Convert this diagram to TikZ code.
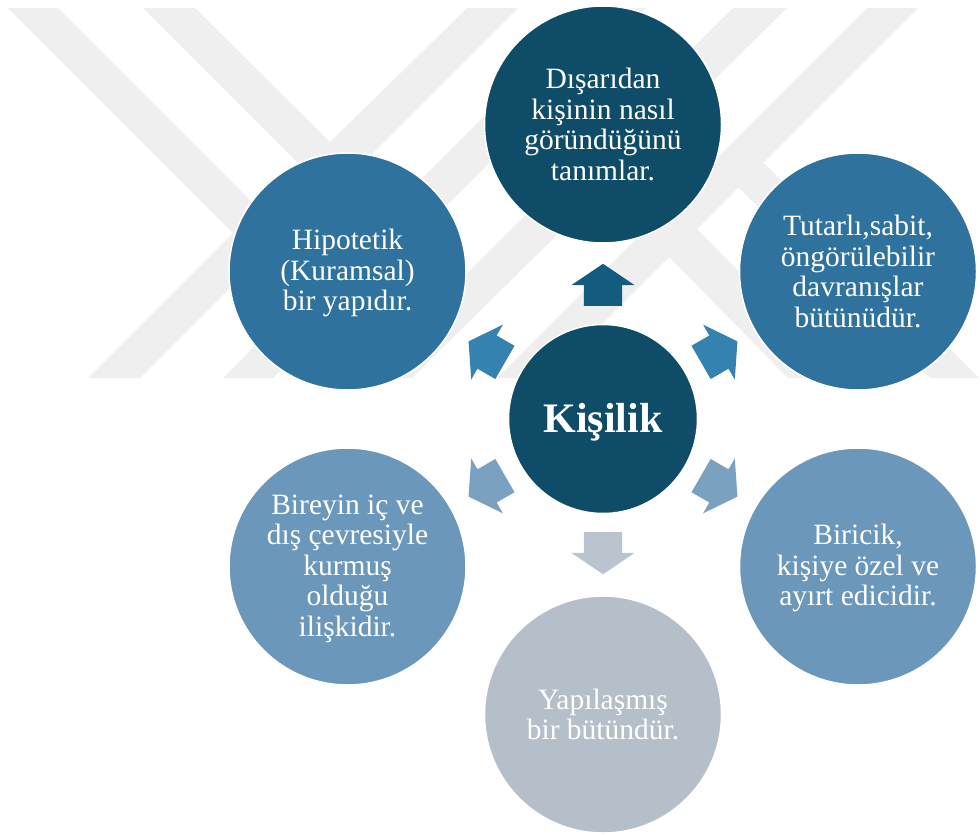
\documentclass[tikz,border=0pt]{standalone}
\usepackage{fontspec}
\setmainfont{Liberation Serif}
\usetikzlibrary{shapes.arrows}
\definecolor{koyu}{HTML}{0F4C68}
\definecolor{orta}{HTML}{2E729D}
\definecolor{acik}{HTML}{6A97BA}
\definecolor{gri}{HTML}{B4BFC9}
\definecolor{okkoyu}{HTML}{135C80}
\definecolor{okorta}{HTML}{3582B0}
\definecolor{okacik}{HTML}{7AA2C0}
\definecolor{okgri}{HTML}{BAC4CE}
\definecolor{filigran}{HTML}{EFEFEF}
\newcommand{\ustpay}{\rule{0pt}{24pt}}
\tikzset{
	daire/.style={circle,draw=white,line width=1.5pt,fill=#1,text=white,inner sep=0pt,minimum size=237pt,align=center,font=\fontsize{29.5}{30.5}\selectfont},
	ok/.style={single arrow,fill=#1,draw=none,inner xsep=0pt,inner ysep=19pt,minimum height=42pt,single arrow head extend=12.5pt,single arrow tip angle=112,single arrow head indent=0pt,anchor=tail},
	filigranband/.style={fill=filigran,draw=none}
}
\begin{document}
\begin{tikzpicture}[x=1pt,y=-1pt]
	\useasboundingbox (0,0) rectangle (980,835);
	\fill[filigranband] (8,8) -- (58,8) -- (284,234) -- (140,378) -- (88,378) -- (233,233) -- cycle;
	\fill[filigranband] (143,8) -- (195,8) -- (330,142) -- (467,8) -- (518,8) -- (330.5,195.5) -- cycle;
	\fill[filigranband] (592,8) -- (646,8) -- (273,378) -- (223,378) -- cycle;
	\fill[filigranband] (733,8) -- (787,8) -- (412,378) -- (362,378) -- cycle;
	\fill[filigranband] (867,8) -- (918,8) -- (548,378) -- (497,378) -- cycle;
	\fill[filigranband] (695,227) -- (667,255) -- (788,378) -- (844,378) -- cycle;
	\fill[filigranband] (763,162) -- (738,187) -- (930,378) -- (979,378) -- cycle;

	\node[daire=koyu,minimum size=189pt,font=\fontsize{42}{46}\selectfont\bfseries] (merkez) at (603,419) {\rule{0pt}{35pt}Kişilik};
	\node[daire=koyu] (d1) at (603,124.5) {Dışarıdan\\kişinin nasıl\\göründüğünü\\tanımlar.};
	\node[daire=orta] (d2) at (858,271.5) {Tutarlı,sabit,\\öngörülebilir\\davranışlar\\bütünüdür.};
	\node[daire=acik] (d3) at (858,566.5) {\ustpay Biricik,\\kişiye özel ve\\ayırt edicidir.};
	\node[daire=gri] (d4) at (603,714.5) {Yapılaşmış\\bir bütündür.};
	\node[daire=acik] (d5) at (347.5,566.5) {\ustpay Bireyin iç ve\\dış çevresiyle\\kurmuş\\olduğu\\ilişkidir.};
	\node[daire=orta] (d6) at (347.5,271.5) {\ustpay Hipotetik\\(Kuramsal)\\bir yapıdır.};

	\node[ok=okkoyu,rotate=90] (o1) at (603,306) {};
	\node[ok=okorta,rotate=30] (o2) at (700.9,362.5) {};
	\node[ok=okacik,rotate=-30] (o3) at (700.9,475.5) {};
	\node[ok=okgri,rotate=-90] (o4) at (603,532) {};
	\node[ok=okacik,rotate=-150] (o5) at (505.1,475.5) {};
	\node[ok=okorta,rotate=150] (o6) at (505.1,362.5) {};
\end{tikzpicture}
\end{document}
